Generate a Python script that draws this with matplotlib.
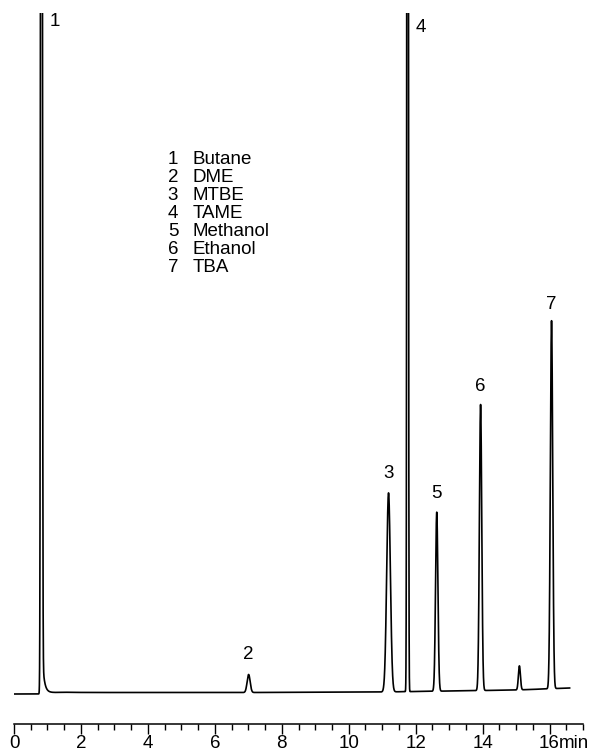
import numpy as np
import matplotlib
matplotlib.use("Agg")
import matplotlib.pyplot as plt
from matplotlib.ticker import MultipleLocator, FixedLocator

# ---- data ----
peak_ids = ["1", "2", "3", "4", "5", "6", "", "7"]
peak_times = [0.82, 7.01, 11.19, 11.76, 12.63, 13.94, 15.10, 16.06]
peak_heights = [3000, 18, 199, 3000, 179, 286, 24, 368]
peak_widths = [0.018, 0.045, 0.055, 0.016, 0.035, 0.035, 0.03, 0.035]

baseline_t = [0.0, 0.78, 1.5, 7.0, 11.0, 13.0, 15.0, 16.6]
baseline_v = [-3.0, -3.0, -1.5, -1.5, -1.0, 0.0, 1.0, 3.0]

tail_amp = 56
tail_tau = 0.057

legend_nums = ["1", "2", "3", "4", "5", "6", "7"]
legend_names = ["Butane", "DME", "MTBE", "TAME", "Methanol", "Ethanol", "TBA"]

x_major = [0, 2, 4, 6, 8, 10, 12, 14, 16]
x_major_labels = ["0", "2", "4", "6", "8", "10", "12", "14", "16"]

plt.rcParams["font.family"] = ["Liberation Sans", "DejaVu Sans"]
FS = 13.5

# ---- trace ----
t = np.linspace(0.0, 16.6, 20000)
y = np.interp(t, baseline_t, baseline_v)
for tc, h, w in zip(peak_times, peak_heights, peak_widths):
    y = y + h * np.exp(-0.5 * ((t - tc) / w) ** 2)
mask = t > peak_times[0]
y[mask] += tail_amp * np.exp(-(t[mask] - peak_times[0]) / tail_tau)
y[mask] += 2.0 * np.exp(-(t[mask] - peak_times[0]) / 0.35)

fig = plt.figure(figsize=(5.9, 7.54), dpi=100)
ax = fig.add_axes([14 / 590, 1 - 700 / 754, (583 - 14) / 590, (700 - 13) / 754])
ax.plot(t, y, color="black", lw=1.2)
ax.set_xlim(0, 17)
ax.set_ylim(-9, 678)

for s in ["left", "right", "top"]:
    ax.spines[s].set_visible(False)
ax.spines["bottom"].set_position(("outward", 17))
ax.spines["bottom"].set_linewidth(1.1)
ax.yaxis.set_visible(False)
ax.xaxis.set_major_locator(FixedLocator(x_major))
ax.set_xticklabels(x_major_labels)
ax.xaxis.set_minor_locator(MultipleLocator(0.5))
ax.tick_params(axis="x", which="major", length=7, width=1.0, pad=1.5, labelsize=FS)
ax.tick_params(axis="x", which="minor", length=4, width=1.0)

# "min" suffix next to the 16 label
ax.annotate("min", xy=(16, 0), xycoords=("data", "axes fraction"),
            xytext=(7, -17 - 7 - 1.5), textcoords="offset points",
            fontsize=FS, ha="left", va="top")

# peak labels
clip_offsets = {"1": 669, "4": 664}
for pid, tc, h in zip(peak_ids, peak_times, peak_heights):
    if not pid:
        continue
    if h > 678:
        ax.text(tc + 0.4, clip_offsets[pid], pid, fontsize=FS,
                ha="center", va="center")
    else:
        ax.annotate(pid, xy=(tc, h), xytext=(0, 7), textcoords="offset points",
                    fontsize=FS, ha="center", va="bottom")

# compound list
for i, (n, name) in enumerate(zip(legend_nums, legend_names)):
    ypix = 160 + 18 * i
    fig.text(173 / 590, 1 - ypix / 754, n, fontsize=FS, ha="center", va="center")
    fig.text(193 / 590, 1 - ypix / 754, name, fontsize=FS, ha="left", va="center")

fig.savefig("out.png", dpi=100)
